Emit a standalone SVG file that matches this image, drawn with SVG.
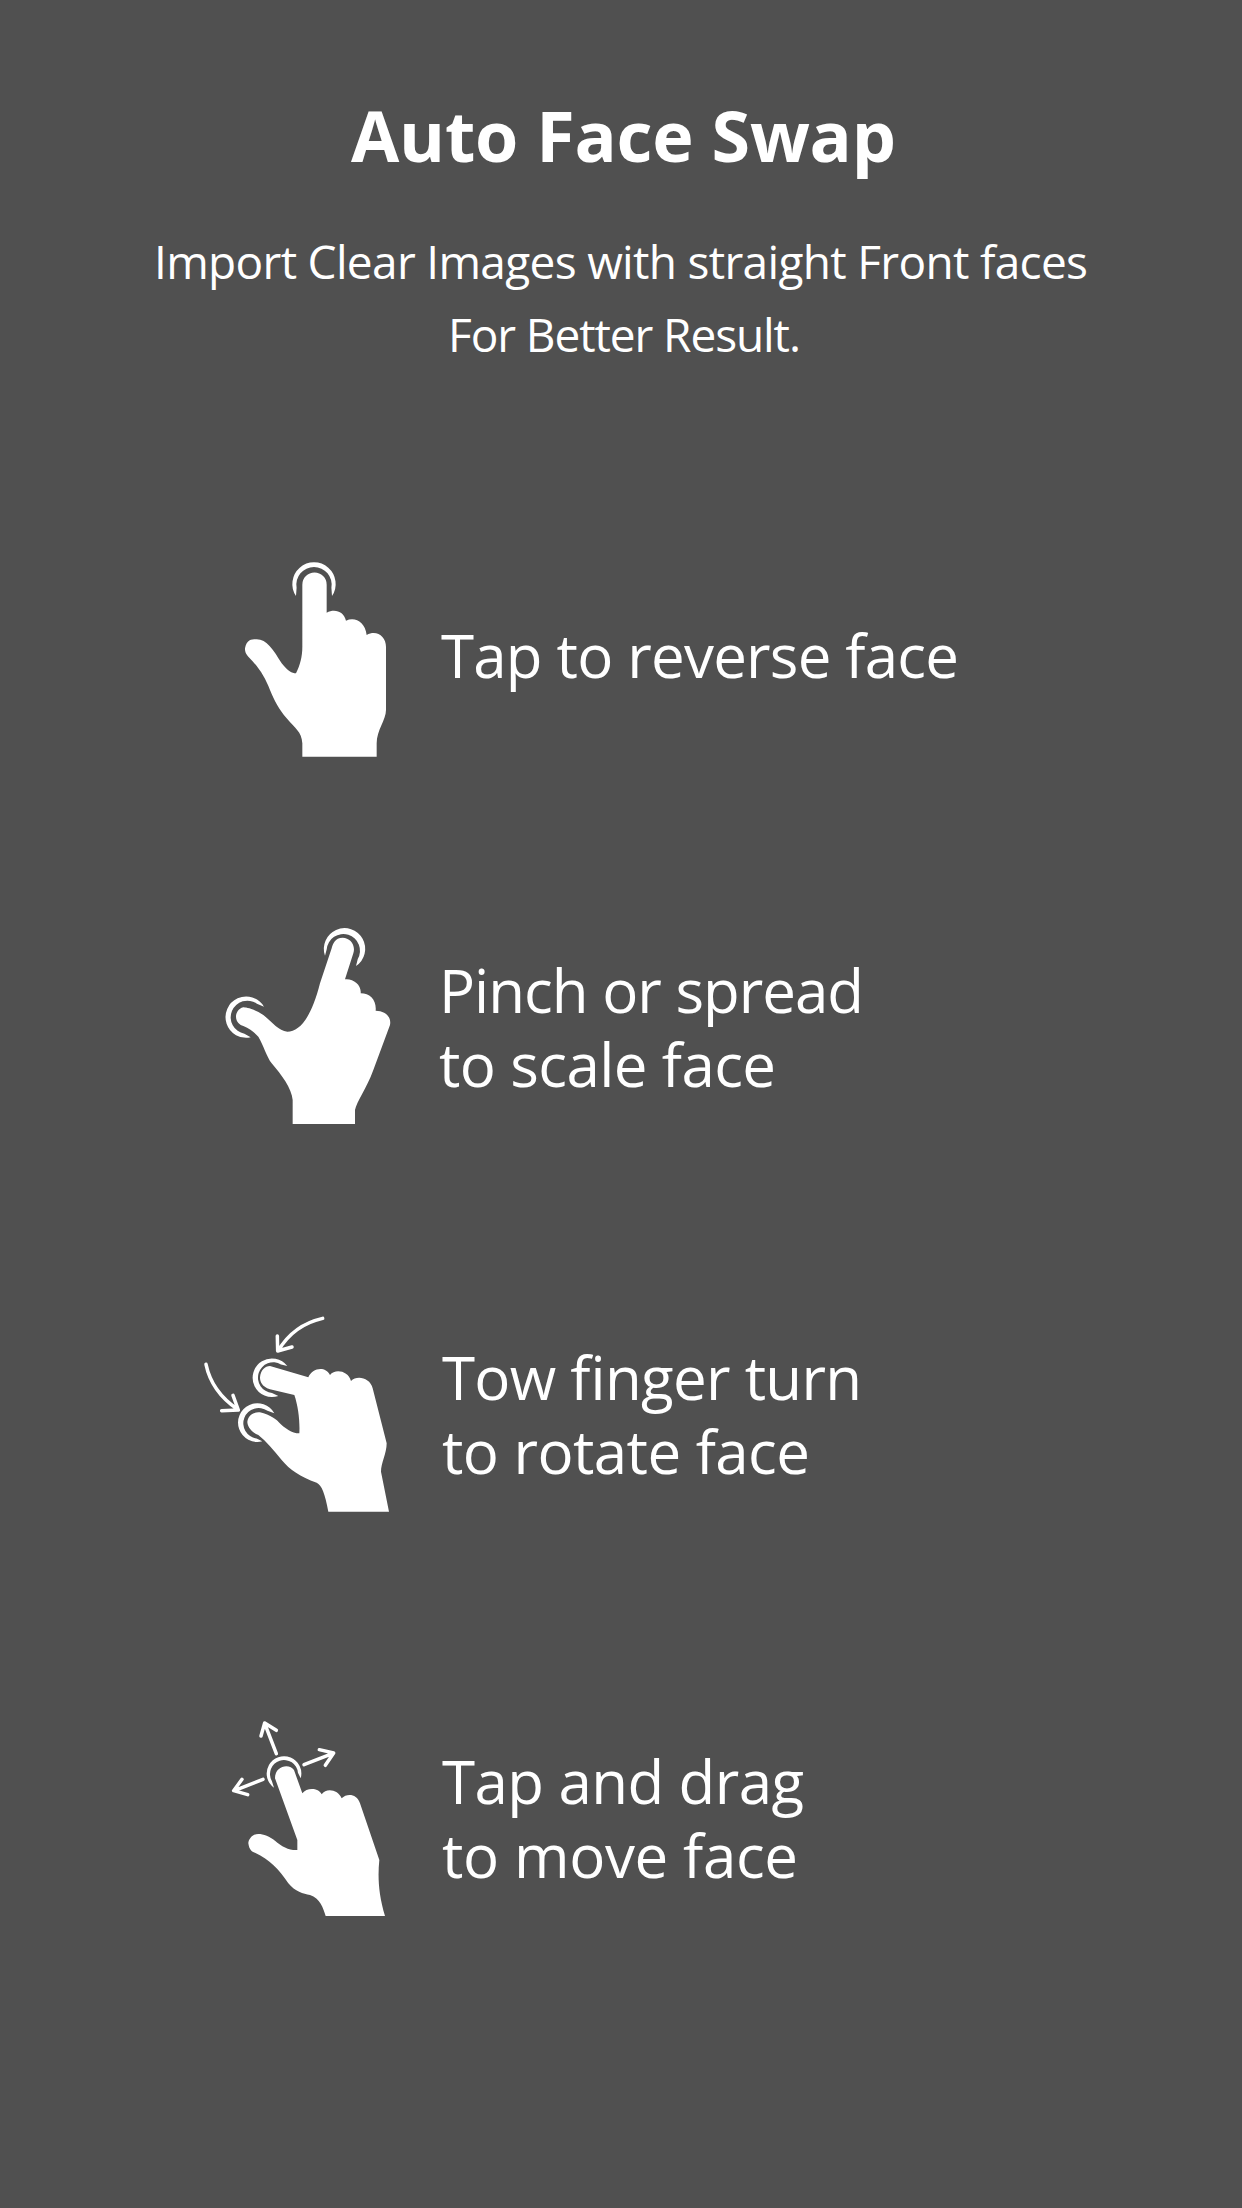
<svg xmlns="http://www.w3.org/2000/svg" width="1242" height="2208" viewBox="0 0 1242 2208">
<style>
text{font-family:"Open Sans","Noto Sans","Liberation Sans",sans-serif;fill:#fff}
.t{font-size:70px;font-weight:700;text-anchor:start}
.s{font-size:46px}
.l{font-size:60px}
.h{fill:#fff;stroke:none}
.a{fill:none;stroke:#fff;stroke-width:10.500;stroke-linecap:round;stroke-linejoin:round}
</style>
<rect width="1242" height="2208" fill="#505050"/>
<g id="heading">
<text class="t" x="351" y="162" textLength="545">Auto Face Swap</text>
<text class="s" x="154" y="279" textLength="934">Import Clear Images with straight Front faces</text>
<text class="s" x="448" y="352" textLength="353">For Better Result.</text>
</g>
<g id="tap">
<g transform="translate(220 550) scale(.33333)">
<path class="h" d="M247,104A36.500,36.500 0 0 1 320,104L320,188C345,175 372,185 378,212C405,200 435,215 440,255C470,238 498,260 498,290L498,480C498,510 470,540 470,580L470,620L247,620L247,580C245,545 225,535 200,505C175,475 165,455 150,420C135,380 115,350 85,320C75,310 75,300 75,295C80,268 95,268 110,268C140,268 160,300 185,340C205,365 215,370 228,370C240,345 247,320 247,290Z"/>
<path class="h" d="M228,138A65,65 0 1 1 336,138L334.200,113.200A53,53 0 1 0 229.800,113.200Z"/>
</g>
<text class="l" x="441" y="678" textLength="518">Tap to reverse face</text>
</g>
<g id="pinch">
<g transform="translate(210 920) scale(.33333)">
<path class="h" d="M398,53C375,53 368,72 365,85L330,190C305,290 270,335 232,335C205,332 185,305 160,285C130,265 105,262 100,262C85,265 78,280 78,290C78,305 90,315 100,318C120,325 135,340 145,350C160,375 170,410 185,430C215,465 245,505 248,540L248,612L435,612L435,570C440,545 470,505 490,450L540,315C545,290 525,272 497,272C500,240 480,220 452,220C455,195 430,175 405,178L430,100C438,75 420,53 398,53Z"/>
<path class="h" d="M345,107A62,62 0 1 1 438,138L443.300,117A50,50 0 1 0 350.200,87.600Z"/>
<path class="h" d="M122,352A62,62 0 1 1 162,260L140.700,251A50,50 0 1 0 103.300,341.200Z"/>
</g>
<text class="l" x="439" y="1013" textLength="425">Pinch or spread</text>
<text class="l" x="439" y="1087" textLength="337">to scale face</text>
</g>
<g id="rotate">
<g transform="translate(190 1300) scale(.33333)">
<path class="h" d="M240,198L355,232C365,205 405,195 420,225C435,205 475,212 483,243C500,225 540,232 548,265L590,430C590,460 573,490 573,515L597,635L415,635C405,580 395,555 380,548C330,530 300,510 275,480C250,450 230,425 205,405C180,395 172,375 172,365C175,340 200,335 210,337C240,342 265,365 265,365C285,385 305,400 328,400C330,365 325,320 313,285L240,268C215,260 210,245 210,232C212,210 225,198 240,198Z"/>
<path class="h" d="M265,288A58,58 0 1 1 292,198L273,193.200A46,46 0 1 0 246,278.800Z"/>
<path class="h" d="M217,424A58,58 0 1 1 253,340L232.400,332.300A46,46 0 1 0 199.600,415.500Z"/>
<path class="a" d="M398,55Q310,75 265,152M262,108L263,153L306,141"/>
<path class="a" d="M48,193Q65,275 143,328M129,286L145,330L95,332"/>
</g>
<text class="l" x="442" y="1400" textLength="420">Tow finger turn</text>
<text class="l" x="442" y="1474" textLength="368">to rotate face</text>
</g>
<g id="drag">
<g transform="translate(210 1700) scale(.33333)">
<path class="h" d="M195,235L262,420L262,450C240,452 215,440 195,422C180,410 160,402 145,402C125,402 115,420 115,430C118,450 125,455 135,458C180,480 205,505 235,550C255,575 280,582 300,585C330,595 340,625 347,648L525,648C505,580 503,530 508,480L450,310C440,280 410,280 395,295C385,270 350,262 335,283C325,262 290,262 277,280L252,210C240,190 195,195 195,235Z"/>
<path class="h" d="M192,263A52,52 0 1 1 272,235L263.800,218.300A42,42 0 1 0 185.600,243Z"/>
<path class="a" d="M199,161L164,70M153,108L164,69L199,91"/>
<path class="a" d="M282,194L369,160M328,149L371,159L346,196"/>
<path class="a" d="M159,238L73,272M96,238L71,272L113,284"/>
</g>
<text class="l" x="442" y="1804" textLength="362">Tap and drag</text>
<text class="l" x="442" y="1878" textLength="356">to move face</text>
</g>
</svg>
